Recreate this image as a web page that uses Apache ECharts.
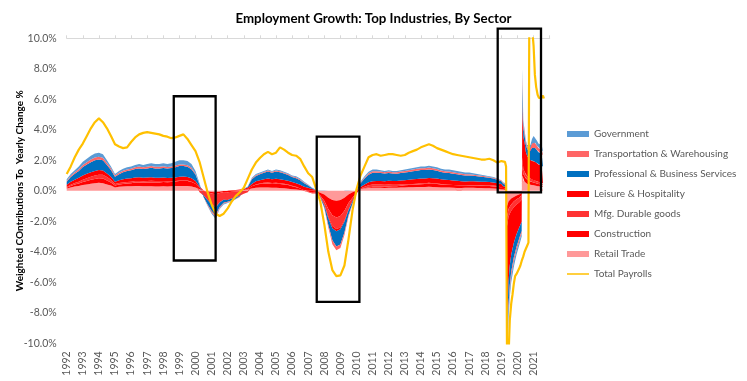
<!DOCTYPE html>
<html><head><meta charset="utf-8">
<script src="https://cdn.jsdelivr.net/npm/echarts@6/dist/echarts.min.js"></script>
<style>html,body{margin:0;padding:0;background:#fff}#c{width:747px;height:381px}</style>
</head><body><div id="c"></div>
<script>
// x positions (decimal year, as placed on the reference axis)
const stackX = [1992,1992.25,1992.5,1992.75,1993,1993.25,1993.5,1993.75,1994,1994.25,1994.5,1994.75,1995,1995.25,1995.5,1995.75,1996,1996.25,1996.5,1996.75,1997,1997.25,1997.5,1997.75,1998,1998.25,1998.5,1998.75,1999,1999.25,1999.5,1999.75,2000,2000.25,2000.5,2000.75,2001,2001.25,2001.5,2001.75,2002,2002.25,2002.5,2002.75,2003,2003.25,2003.5,2003.75,2004,2004.25,2004.5,2004.75,2005,2005.25,2005.5,2005.75,2006,2006.25,2006.5,2006.75,2007,2007.25,2007.5,2007.75,2008,2008.25,2008.5,2008.75,2009,2009.25,2009.5,2009.75,2010,2010.25,2010.5,2010.75,2011,2011.25,2011.5,2011.75,2012,2012.25,2012.5,2012.75,2013,2013.25,2013.5,2013.75,2014,2014.25,2014.5,2014.75,2015,2015.25,2015.5,2015.75,2016,2016.25,2016.5,2016.75,2017,2017.25,2017.5,2017.75,2018,2018.25,2018.5,2018.75,2019,
2019.12,2019.28,2019.36,2019.44,2019.52,2019.61,2019.69,2019.77,2019.85,2019.94,2020.02,2020.1,2020.18,2020.26,2020.3,2020.36,2020.44,2020.52,2020.6,2020.7,2020.8,2020.9,2021,2021.1,2021.2,2021.3,2021.4,2021.5,2021.58];

const retail = [.15,.22,.28,.32, .38,.42,.46,.5, .52,.5,.42,.34, .22,.26,.28,.3, .3,.32,.32,.3, .3,.3,.29,.29, .3,.29,.3,.31, .32,.32,.31,.28, .22,.1,.02,-.05, -.08,-.1,-.06,-.02, -.02,0,.02,.03, .05,.08,.15,.2, .22,.22,.22,.2, .2,.18,.16,.14, .1,.08,.05,.02, 0,-.02,-.03,-.12, -.25,-.45,-.6,-.65, -.6,-.45,-.25,-.1, 0,.1,.15,.18, .2,.2,.2,.19, .2,.2,.2,.21, .22,.23,.24,.25, .25,.25,.26,.25, .24,.22,.21,.21, .2,.19,.18,.2, .2,.2,.19,.18, .17,.16,.15,.14, .12,
.08,.06,-1.0,-.7,-.6,-.5,-.45,-.4,-.35,-.3,-.28,-.25,-.2,-.15,1.0,.7,.6,.5,.45,.4,.4,.38,.36,.34,.32,.3,.28,.27,.26];

const construction = [.05,.1,.13,.16, .2,.22,.26,.28, .3,.3,.26,.2, .12,.15,.17,.18, .2,.22,.23,.23, .24,.25,.25,.26, .27,.27,.28,.3, .32,.33,.33,.3, .25,.1,0,-.05, -.1,-.12,-.08,-.06, -.08,-.06,-.04,-.02, 0,.05,.15,.2, .22,.24,.26,.25, .27,.27,.26,.24, .2,.16,.1,.02, -.05,-.1,-.08,-.18, -.4,-.75,-1.0,-1.1, -1.05,-.85,-.55,-.35, -.15,0,.02,.04, .06,.06,.07,.08, .09,.1,.1,.12, .14,.15,.16,.17, .18,.19,.2,.2, .2,.19,.18,.18, .18,.17,.16,.15, .15,.15,.15,.15, .15,.15,.14,.13, .12,
.08,.08,-.7,-.5,-.45,-.4,-.35,-.3,-.28,-.25,-.22,-.2,-.18,-.15,.6,.4,.35,.3,.28,.25,.22,.2,.18,.17,.16,.15,.14,.13,.12];

const mfgDurable = [.05,.08,.1,.12, .15,.18,.2,.22, .24,.25,.22,.18, .1,.1,.1,.1, .1,.1,.1,.1, .1,.11,.1,.09, .08,.06,.04,.03, .03,.03,.03,.02, 0,-.1,-.3,-.5, -.7,-.85,-.6,-.5, -.5,-.45,-.4,-.3, -.2,-.1,0,.02, .04,.06,.07,.06, .06,.05,.04,.04, .03,.02,0,-.02, -.04,-.06,-.06,-.1, -.25,-.5,-.7,-.75, -.75,-.65,-.45,-.25, -.05,.05,.1,.14, .15,.15,.14,.13, .12,.1,.09,.08, .06,.05,.05,.05, .06,.06,.06,.05, .04,.03,.02,.01, 0,-.01,-.01,0, .01,.02,.03,.04, .05,.06,.06,.05, .04,
.02,.02,-.6,-.5,-.45,-.4,-.4,-.38,-.36,-.35,-.33,-.32,-.3,-.28,.6,.35,.3,.25,.22,.2,.18,.17,.16,.15,.14,.13,.12,.12,.12];

const leisure = [.15,.2,.22,.25, .28,.3,.3,.3, .3,.28,.24,.2, .15,.18,.2,.22, .22,.23,.24,.23, .23,.23,.22,.22, .22,.22,.23,.24, .25,.25,.24,.22, .18,.08,.02,0, -.02,-.04,-.02,0, .02,.03,.04,.05, .06,.08,.15,.2, .22,.24,.26,.25, .26,.26,.25,.24, .24,.24,.24,.22, .2,.12,.04,0, -.05,-.1,-.15,-.15, -.12,-.08,-.03,0, .03,.1,.14,.2, .22,.23,.23,.23, .25,.25,.26,.27, .28,.29,.3,.3, .31,.31,.32,.32, .32,.31,.31,.31, .3,.3,.29,.26, .26,.25,.24,.23, .22,.21,.2,.18, .16,
.12,.1,-6.5,-4.3,-3.4,-2.9,-2.6,-2.35,-2.15,-1.95,-1.8,-1.65,-1.55,-1.45,3.5,2.1,1.9,1.5,1.35,1.25,1.2,1.2,1.25,1.25,1.2,1.15,1.15,1.15,1.1];

const profBusiness = [.2,.3,.38,.45, .55,.6,.66,.7, .7,.67,.55,.45, .33,.4,.46,.5, .52,.56,.58,.57, .6,.62,.61,.61, .63,.62,.64,.67, .7,.69,.67,.6, .42,.12,-.1,-.3, -.42,-.5,-.3,-.2, -.12,-.12,-.08,-.06, 0,.05,.3,.35, .38,.42,.45,.43, .47,.46,.42,.38, .33,.33,.3,.24, .15,.04,0,-.05, -.15,-.45,-.8,-1.0, -1.0,-.7,-.32,-.15, 0,.25,.4,.5, .55,.55,.52,.5, .5,.48,.47,.48, .5,.52,.53,.55, .56,.55,.56,.54, .52,.48,.46,.46, .44,.42,.41,.39, .38,.36,.34,.32, .3,.27,.25,.22, .19,
.15,.14,-2.2,-1.5,-1.3,-1.1,-1.05,-.95,-.9,-.82,-.77,-.72,-.65,-.6,1.3,.6,.5,.45,.45,.5,.6,.85,.95,.9,.85,.8,.8,.78,.75];

const transport = [.05,.08,.1,.12, .14,.16,.17,.18, .18,.17,.14,.11, .08,.09,.1,.1, .11,.11,.12,.11, .11,.11,.1,.1, .11,.1,.1,.11, .11,.11,.1,.09, .07,.02,-.02,-.06, -.1,-.12,-.08,-.06, -.04,-.04,-.02,-.02, 0,.01,.05,.06, .06,.06,.07,.06, .07,.07,.06,.06, .05,.06,.05,.05, .03,0,0,0, -.05,-.15,-.25,-.25, -.23,-.17,-.1,-.05, 0,.04,.06,.09, .1,.1,.1,.09, .1,.09,.1,.1, .1,.11,.11,.12, .12,.12,.12,.12, .11,.1,.1,.1, .1,.09,.09,.09, .09,.08,.07,.07, .06,.06,.06,.05, .04,
.05,.05,-.6,-.4,-.35,-.3,-.28,-.27,-.24,-.23,-.22,-.2,-.18,-.15,.5,.25,.2,.18,.15,.15,.2,.3,.35,.34,.3,.27,.26,.25,.25];

const government = [.1,.12,.14,.18, .2,.22,.25,.27, .26,.23,.17,.12, .1,.12,.14,.15, .15,.16,.16,.16, .17,.18,.18,.18, .19,.19,.21,.24, .27,.27,.27,.24, .16,.08,0,-.04, -.08,-.12,-.06,-.06, -.04,-.03,-.01,0, .02,.02,.05,.07, .06,.06,.07,.05, .07,.06,.06,.05, .05,.06,.06,.05, .04,.04,.03,.02, .02,.01,0,0, 0,.02,.02,.01, 0,.06,.08,.1, .12,.11,.09,.08, .09,.08,.08,.09, .1,.1,.11,.11, .12,.12,.13,.12, .12,.12,.12,.13, .13,.13,.12,.11, .11,.09,.08,.06, .05,.04,.04,.03, .03,
.05,.05,-.9,-.6,-.45,-.4,-.37,-.35,-.32,-.3,-.28,-.26,-.24,-.22,.5,.2,.15,.12,.1,.15,.2,.3,.35,.35,.33,.3,.3,.3,.3];

const payrollX = [1992,1992.25,1992.5,1992.75,1993,1993.25,1993.5,1993.75,1994,1994.25,1994.5,1994.75,1995,1995.25,1995.5,1995.75,1996,1996.25,1996.5,1996.75,1997,1997.25,1997.5,1997.75,1998,1998.25,1998.5,1998.75,1999,1999.25,1999.5,1999.75,2000,2000.25,2000.5,2000.75,2001,2001.25,2001.5,2001.75,2002,2002.25,2002.5,2002.75,2003,2003.25,2003.5,2003.75,2004,2004.25,2004.5,2004.75,2005,2005.25,2005.5,2005.75,2006,2006.25,2006.5,2006.75,2007,2007.25,2007.5,2007.75,2008,2008.25,2008.5,2008.75,2009,2009.25,2009.5,2009.75,2010,2010.25,2010.5,2010.75,2011,2011.25,2011.5,2011.75,2012,2012.25,2012.5,2012.75,2013,2013.25,2013.5,2013.75,2014,2014.25,2014.5,2014.75,2015,2015.25,2015.5,2015.75,2016,2016.25,2016.5,2016.75,2017,2017.25,2017.5,2017.75,2018,2018.25,2018.5,2018.75,2019,
2019.12,2019.22,2019.29,2019.36,2019.44,2019.52,2019.61,2019.69,2019.77,2019.85,2019.94,2020.02,2020.1,2020.18,2020.26,2020.36,2020.44,2020.52,2020.6,2020.68,2020.74,2020.82,2020.92,2021,2021.08,2021.16,2021.25,2021.33,2021.42,2021.5,2021.58,2021.64];

const totalPayrolls = [1.1,1.6,2.2,2.7, 3.1,3.6,4.1,4.5, 4.75,4.5,4.1,3.6, 3.05,2.9,2.8,2.85, 3.2,3.5,3.7,3.8, 3.85,3.8,3.75,3.7, 3.6,3.55,3.45,3.5, 3.6,3.7,3.4,3.0, 2.6,1.9,0.9,-0.1, -0.9,-1.5,-1.65,-1.5, -1.15,-0.7,-0.35,-0.1, 0.2,0.8,1.4,1.85, 2.15,2.4,2.55,2.4, 2.5,2.85,2.7,2.5, 2.35,2.3,2.1,1.6, 1.15,0.9,0.1,-0.7, -2.2,-4.0,-5.2,-5.6, -5.55,-4.9,-3.2,-1.3, 0.1,1.0,1.6,2.2, 2.35,2.4,2.3,2.35, 2.4,2.4,2.35,2.3, 2.35,2.5,2.6,2.7, 2.85,2.95,3.05,2.95, 2.8,2.7,2.6,2.5, 2.4,2.35,2.3,2.25, 2.2,2.15,2.1,2.05, 2.05,2.1,2.0,1.85, 1.95,
2.05,1.9,1.6,-13,-11,-8.5,-7.4,-6.8,-6.1,-5.6,-5.45,-5.4,-5.1,-4.9,-4.6,-4.3,-4.0,-3.9,-3.6,-3.4,13,12,10.5,9.5,7.6,6.8,6.3,6.1,6.0,6.1,6.25,6.05];

// annotation boxes in data units: [x0, yTop, x1, yBottom]
const boxes = [[1998.65, 6.2, 2001.25, -4.57], [2007.53, 3.55, 2010.18, -7.28], [2018.77, 10.63, 2021.46, -0.1]];

const FONT = 'Lato';
// decimal year -> linear ms value for the (hidden) time axis that carries the series
const YEAR_MS = 31557600000;
const ts = y => Math.round((y - 1970) * YEAR_MS);

const chart = echarts.init(document.getElementById('c'), null, {renderer: 'canvas'});
const pairs = (xs, ys) => xs.map((x, i) => [ts(x), ys[i]]);
const areaDefs = [
  ['Retail Trade', retail, '#FF9999'],
  ['Construction', construction, '#FF0000'],
  ['Mfg. Durable goods', mfgDurable, '#FF3333'],
  ['Leisure & Hospitality', leisure, '#FF0000'],
  ['Professional & Business Services', profBusiness, '#0070C0'],
  ['Transportation & Warehousing', transport, '#FF6666'],
  ['Government', government, '#5B9BD5']
];
const series = areaDefs.map(([name, vals, color]) => ({
  name, type: 'line', stack: 'total', stackStrategy: 'samesign', xAxisIndex: 0,
  data: pairs(stackX, vals), symbol: 'none', showSymbol: false,
  lineStyle: {width: 0, color}, itemStyle: {color}, areaStyle: {color, opacity: 1},
  emphasis: {disabled: true}, z: 2
}));
series.push({
  name: 'Total Payrolls', type: 'line', xAxisIndex: 0, data: pairs(payrollX, totalPayrolls),
  symbol: 'none', lineStyle: {color: '#FFC000', width: 2.2}, itemStyle: {color: '#FFC000'},
  emphasis: {disabled: true}, z: 5
});
const lineIcon = 'path://M0,0L0.05,0L0.05,0.05Z M0,2.2L23,2.2L23,3.8L0,3.8Z M0,6L0.05,6L0.05,5.95Z';
const legendOrder = ['Government', 'Transportation & Warehousing', 'Professional & Business Services', 'Leisure & Hospitality', 'Mfg. Durable goods', 'Construction', 'Retail Trade'];

chart.setOption({
  animation: false,
  backgroundColor: '#fff',
  title: {text: 'Employment Growth: Top Industries, By Sector', left: 'center', top: 7,
    textStyle: {fontFamily: FONT, fontSize: 13.3, fontWeight: 'bold', color: '#000'}},
  grid: {left: 66.7, right: 197.3, top: 38.3, bottom: 37.7, outerBoundsMode: 'none', containLabel: false},
  legend: {orient: 'vertical', left: 567, top: 128, padding: 0, itemWidth: 22, itemHeight: 6, itemGap: 8,
    textStyle: {fontFamily: FONT, fontSize: 10, color: '#595959', lineHeight: 12},
    data: legendOrder.map(n => ({name: n, icon: 'rect'})).concat([{name: 'Total Payrolls', icon: lineIcon}])},
  xAxis: [
    {type: 'time', min: ts(1992), max: ts(2022), show: false},
    {type: 'value', min: 1992, max: 2022, interval: 1,
      axisLine: {onZero: true, lineStyle: {color: '#D9D9D9'}},
      axisTick: {show: true, length: 3, lineStyle: {color: '#D9D9D9'}},
      axisLabel: {show: false}, splitLine: {show: false}},
    {type: 'value', min: 1992, max: 2022, interval: 1, position: 'bottom',
      axisLine: {show: false, onZero: false}, axisTick: {show: false}, splitLine: {show: false},
      axisLabel: {rotate: 90, margin: 8, fontFamily: FONT, fontSize: 10.5, color: '#595959',
        formatter: v => (v < 2022 ? String(v) : '')}}
  ],
  yAxis: {type: 'value', min: -10, max: 10, interval: 2,
    axisLine: {show: false}, axisTick: {show: false}, splitLine: {show: false},
    axisLabel: {formatter: v => v.toFixed(1) + '%', fontFamily: FONT, fontSize: 10.5, color: '#595959', margin: 10},
    name: 'Weighted COntributions To  Yearly Change %', nameLocation: 'middle', nameGap: 42, nameRotate: 90,
    nameMoveOverlap: false,
    nameTextStyle: {fontFamily: FONT, fontSize: 10, fontWeight: 'bold', color: '#000'}},
  series
});

const rects = boxes.map(([x0, y0, x1, y1]) => {
  const p0 = chart.convertToPixel({seriesIndex: 7}, [ts(x0), y0]);
  const p1 = chart.convertToPixel({seriesIndex: 7}, [ts(x1), y1]);
  return {type: 'rect', silent: true, z: 100,
    shape: {x: p0[0], y: p0[1], width: p1[0] - p0[0], height: p1[1] - p0[1]},
    style: {fill: 'none', stroke: '#000', lineWidth: 2.3}};
});
chart.setOption({graphic: rects});
</script></body></html>
